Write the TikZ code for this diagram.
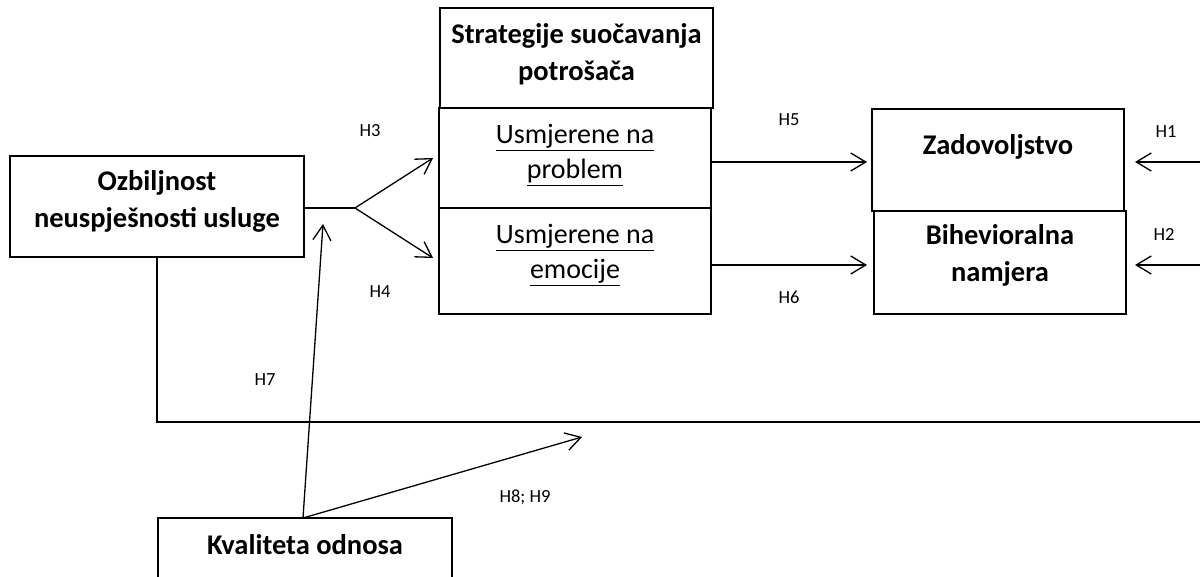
\documentclass[tikz,border=0pt]{standalone}
\usepackage{fontspec}
\setmainfont{Carlito}
\usetikzlibrary{arrows.meta,calc}
\begin{document}
\begin{tikzpicture}[x=1pt,y=-1pt,
  box/.style={draw, line width=1.3pt, inner sep=0pt},
  btxt/.style={font=\fontsize{28.5}{37}\selectfont\bfseries, align=center, inner sep=0pt},
  utxt/.style={font=\fontsize{28}{35}\selectfont, align=center, inner sep=0pt},
  hlab/.style={font=\fontsize{18.5}{20}\selectfont, inner sep=0pt},
  conn/.style={line width=1.3pt},
  arr/.style={line width=1.3pt, -{Straight Barb[length=15pt,width=18pt,line width=1.3pt]}}]
\clip (0,0) rectangle (1200,577);
\fill[white] (0,0) rectangle (1200,577);
% boxes
\node[box, minimum width=294pt, minimum height=101pt] (ozb) at (157,206.5) {};
\node[box, minimum width=273pt, minimum height=100pt] (str) at (576.5,58) {};
\node[box, minimum width=272pt, minimum height=100pt] (prob) at (575,158) {};
\node[box, minimum width=272pt, minimum height=106pt] (emo) at (575,261) {};
\node[box, minimum width=252pt, minimum height=102pt] (zad) at (998,160) {};
\node[box, minimum width=252pt, minimum height=103pt] (bih) at (1000,262.5) {};
\node[box, minimum width=294pt, minimum height=100pt] (kva) at (305,568) {};
% texts
\node[btxt] (ozbT) at (157,201.5) {Ozbiljnost\\neuspješnosti usluge};
\node[btxt] (strT) at (576.5,54) {Strategije suočavanja\\potrošača};
\node[utxt] (probT) at (575,155) {\underline{Usmjerene na}\\\underline{problem}};
\node[utxt] (emoT) at (575,255) {\underline{Usmjerene na}\\\underline{emocije}};
\node[btxt] (zadT) at (998,147) {Zadovoljstvo};
\node[btxt] (bihT) at (1000,255) {Bihevioralna\\namjera};
\node[btxt] (kvaT) at (305,545) {Kvaliteta odnosa};
% coordinates
\coordinate (split) at (355,208);
\coordinate (h3tip) at (433,158);
\coordinate (h4tip) at (433,258);
\coordinate (h1start) at (1200,162);
\coordinate (h2start) at (1200,265);
\coordinate (loopEnd) at (1200,422);
\coordinate (h7tip) at (323,224);
\coordinate (h89tip) at (582,437);
\coordinate (kvaTop) at (303,518);
% connectors
\draw[conn] (ozb.east |- split) -- (split);
\draw[arr] (split) -- (h3tip);
\draw[arr] (split) -- (h4tip);
\draw[arr] (prob.east |- 0,162) -- (867,162);
\draw[arr] (emo.east |- 0,265) -- (867,265);
\draw[arr] (h1start) -- (1135,162);
\draw[arr] (h2start) -- (1135,265);
\draw[conn] (ozb.south) |- (loopEnd);
\draw[arr] (kvaTop) -- (h7tip);
\draw[arr] (kvaTop) -- (h89tip);
% labels
\node[hlab] (lH3) at (370,131) {H3};
\node[hlab] (lH4) at (380,292) {H4};
\node[hlab] (lH5) at (789,120) {H5};
\node[hlab] (lH6) at (789,297) {H6};
\node[hlab] (lH1) at (1166,132) {H1};
\node[hlab] (lH2) at (1164,234) {H2};
\node[hlab] (lH7) at (265,380) {H7};
\node[hlab] (lH89) at (525,497) {H8; H9};
\end{tikzpicture}
\end{document}
